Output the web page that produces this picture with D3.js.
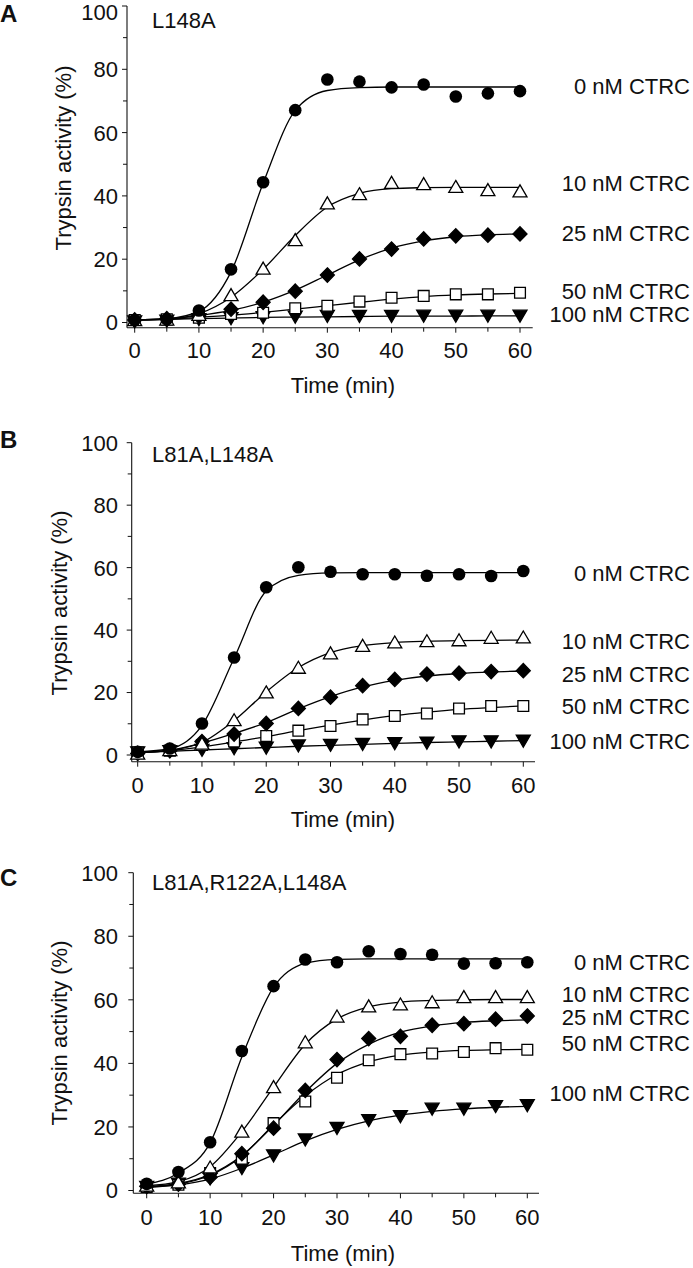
<!DOCTYPE html>
<html>
<head>
<meta charset="utf-8">
<script src="https://cdn.jsdelivr.net/npm/d3@7"></script>
<style>
  html, body { margin: 0; padding: 0; background: #fff; }
  svg { display: block; }
  text { font-family: "Liberation Sans", Arial, Helvetica, sans-serif; fill: #111; }
</style>
</head>
<body>
<svg id="chart" width="693" height="1268"></svg>
<script>
// ---------------- DATA ----------------
const times = [0, 5, 10, 15, 20, 25, 30, 35, 40, 45, 50, 55, 60];
const seriesNames = ["0 nM CTRC", "10 nM CTRC", "25 nM CTRC", "50 nM CTRC", "100 nM CTRC"];
const panelLetters = ["A", "B", "C"];
const panelTitles = ["L148A", "L81A,L148A", "L81A,R122A,L148A"];
const yTicks = [0, 20, 40, 60, 80, 100];
const yMinorTicks = [10, 30, 50, 70, 90];
const xTicks = [0, 10, 20, 30, 40, 50, 60];
const xMinorTicks = [5, 15, 25, 35, 45, 55];
const xTitle = "Time (min)";
const yTitle = "Trypsin activity (%)";

// Panel A (L148A) measured points
const a0   = [0.8, 1.0, 3.8, 16.8, 44.3, 67.1, 76.8, 76.1, 74.3, 75.2, 71.4, 72.4, 73.1];
const a10  = [0.8, 1.0, 2.5, 8.7, 17.1, 26.1, 37.7, 40.6, 44.2, 43.8, 42.9, 41.9, 41.5];
const a25  = [0.8, 1.2, 2.0, 4.2, 6.4, 9.9, 15.0, 20.1, 23.2, 26.4, 27.4, 27.6, 28.0];
const a50  = [0.8, 1.0, 1.5, 2.7, 3.1, 4.5, 5.3, 6.6, 7.8, 8.4, 8.9, 8.9, 9.4];
const a100 = [0.3, 0.5, 1.0, 1.3, 1.6, 1.8, 2.0, 2.0, 2.0, 2.1, 2.1, 2.1, 2.1];
// Panel A fitted curves
const fa0   = [0.8, 1.2, 3.5, 16, 44, 67, 73.3, 74.2, 74.4, 74.4, 74.4, 74.4, 74.4];
const fa10  = [0.8, 1.1, 2.8, 8, 16.8, 27.5, 36.5, 40.8, 42.3, 42.6, 42.7, 42.7, 42.7];
const fa25  = [0.8, 1.1, 2.2, 3.8, 6.4, 10.2, 15, 19.8, 23.5, 25.8, 27.1, 27.7, 28.0];
const fa50  = [0.8, 1.0, 1.6, 2.3, 3.2, 4.2, 5.3, 6.4, 7.4, 8.2, 8.7, 9.0, 9.2];
const fa100 = [0.8, 1.0, 1.2, 1.4, 1.6, 1.7, 1.8, 1.9, 2.0, 2.0, 2.0, 2.1, 2.1];

// Panel B (L81A,L148A) measured points
const b0   = [1.0, 2.1, 10.1, 31.2, 53.7, 60.1, 58.7, 57.9, 57.9, 57.4, 57.9, 57.3, 58.9];
const b10  = [0.5, 1.6, 3.7, 11.2, 20.1, 28.0, 32.6, 35.0, 36.1, 36.5, 36.8, 37.6, 37.7];
const b25  = [0.5, 1.4, 4.3, 6.7, 10.1, 14.9, 18.5, 22.2, 24.2, 25.9, 26.2, 26.7, 27.0];
const b50  = [0.8, 1.4, 3.2, 4.3, 6.1, 7.8, 9.3, 11.4, 12.5, 13.3, 14.9, 15.7, 15.7];
const b100 = [0.8, 1.2, 1.6, 2.1, 2.3, 3.0, 3.2, 3.5, 3.7, 3.9, 4.3, 4.3, 4.5];
// Panel B fitted curves
const fb0   = [1.0, 2.0, 9.5, 31, 52.5, 57.5, 58.3, 58.4, 58.4, 58.4, 58.4, 58.4, 58.4];
const fb10  = [0.8, 1.5, 4.0, 11, 20.2, 28, 32.8, 35, 36, 36.4, 36.6, 36.7, 36.8];
const fb25  = [0.8, 1.5, 3.8, 6.9, 10.4, 14.8, 18.7, 21.8, 23.9, 25.3, 26.1, 26.6, 26.9];
const fb50  = [0.8, 1.4, 2.6, 4.2, 5.9, 7.8, 9.6, 11.2, 12.6, 13.7, 14.6, 15.2, 15.7];
const fb100 = [0.8, 1.2, 1.6, 2.0, 2.4, 2.8, 3.1, 3.4, 3.7, 4.0, 4.2, 4.4, 4.6];

// Panel C (L81A,R122A,L148A) measured points
const c0   = [2.1, 5.8, 15.2, 43.9, 64.3, 72.7, 71.8, 75.3, 74.4, 74.2, 71.4, 71.5, 71.8];
const c10  = [1.6, 2.6, 7.3, 18.6, 32.6, 46.7, 54.8, 58.0, 58.6, 59.3, 60.9, 60.9, 60.9];
const c25  = [1.3, 2.0, 4.2, 11.6, 19.6, 31.5, 41.2, 47.8, 48.5, 52.0, 52.5, 53.9, 54.9];
const c50  = [1.1, 1.8, 5.5, 10.0, 21.2, 28.0, 35.5, 41.0, 42.9, 43.1, 43.6, 44.8, 44.3];
const c100 = [1.1, 2.1, 3.7, 7.0, 11.0, 16.0, 19.6, 22.1, 23.3, 25.7, 25.7, 26.5, 26.8];
// Panel C fitted curves
const fc0   = [2.0, 5.5, 15, 42, 64, 71.5, 72.7, 72.9, 72.9, 72.9, 72.9, 72.9, 72.9];
const fc10  = [1.5, 2.8, 7.5, 18.5, 32.5, 46, 54, 57.8, 59.3, 59.8, 60.0, 60.1, 60.1];
const fc25  = [1.2, 2.2, 5.0, 11, 20.5, 31, 40, 46, 49.8, 51.8, 52.9, 53.4, 53.7];
const fc50  = [1.1, 2.0, 4.8, 10.8, 20.7, 29.8, 36.5, 40.5, 42.6, 43.6, 44.1, 44.3, 44.4];
const fc100 = [1.0, 1.8, 3.6, 7.0, 11.2, 15.6, 19.2, 21.9, 23.7, 24.9, 25.7, 26.2, 26.5];

// Series label heights (in % units) for the right-hand labels
const labelsA = [74.6, 43.9, 28.3, 9.8, 2.7];
const labelsB = [58.3, 36.5, 25.9, 15.7, 4.5];
const labelsC = [71.9, 61.8, 54.5, 46.3, 30.5];

const pointsByPanel = [[a0, a10, a25, a50, a100], [b0, b10, b25, b50, b100], [c0, c10, c25, c50, c100]];
const fitsByPanel   = [[fa0, fa10, fa25, fa50, fa100], [fb0, fb10, fb25, fb50, fb100], [fc0, fc10, fc25, fc50, fc100]];
const labelsByPanel = [labelsA, labelsB, labelsC];

// ---------------- LAYOUT ----------------
const layouts = [
  { axisX: 127,   x0: 134.7, x60: 520.0, xEnd: 532.7, y100: 6.0,   y0: 322.5,  axisY: 327.7,
    letterY: 21.7, titleY: 28,   yTitleX: 70.5, yTitleCy: 158,  tickLabelY: 358,  timeY: 393 },
  { axisX: 131.7, x0: 137.7, x60: 523.3, xEnd: 535.0, y100: 442.7, y0: 755.0,  axisY: 761.7,
    letterY: 448.3, titleY: 461.7, yTitleX: 67, yTitleCy: 603, tickLabelY: 793, timeY: 827 },
  { axisX: 133.3, x0: 146.7, x60: 527.3, xEnd: 539.0, y100: 872.7, y0: 1190.5, axisY: 1193.3,
    letterY: 885.5, titleY: 890, yTitleX: 67, yTitleCy: 1033, tickLabelY: 1225, timeY: 1261 }
];
const FONT = 22;

// marker shapes
const markerTypes = ["circle", "triUp", "diamond", "square", "triDown"];
function markerPath(type) {
  switch (type) {
    case "triUp":   return "M0,-6.3L7,5.7L-7,5.7Z";
    case "triDown": return "M0,6.3L7,-5.7L-7,-5.7Z";
    case "diamond": return "M0,-7.2L7,0L0,7.2L-7,0Z";
    case "square":  return "M-5.4,-5.4H5.4V5.4H-5.4Z";
  }
  return null;
}
const markerFill = { circle: "#000", triUp: "#fff", diamond: "#000", square: "#fff", triDown: "#000" };

const svg = d3.select("#chart");

layouts.forEach((L, p) => {
  const g = svg.append("g");
  const x = d3.scaleLinear().domain([0, 60]).range([L.x0, L.x60]);
  const y = d3.scaleLinear().domain([0, 100]).range([L.y0, L.y100]);

  // y axis
  g.append("line").attr("x1", L.axisX).attr("x2", L.axisX)
    .attr("y1", y(100)).attr("y2", L.axisY).attr("stroke", "#111").attr("stroke-width", 1.1);
  g.selectAll(".ytick").data(yTicks).enter().append("line")
    .attr("x1", L.axisX - 5).attr("x2", L.axisX).attr("y1", d => y(d)).attr("y2", d => y(d))
    .attr("stroke", "#111").attr("stroke-width", 1);
  g.selectAll(".yminor").data(yMinorTicks).enter().append("line")
    .attr("x1", L.axisX - 4).attr("x2", L.axisX).attr("y1", d => y(d)).attr("y2", d => y(d))
    .attr("stroke", "#111").attr("stroke-width", 1);
  g.selectAll(".ylab").data(yTicks).enter().append("text")
    .attr("x", 118).attr("y", d => Math.max(y(d), 12.5)).attr("dy", "0.36em")
    .attr("text-anchor", "end").attr("font-size", FONT).text(d => d);

  // x axis
  g.append("line").attr("x1", L.axisX).attr("x2", L.xEnd)
    .attr("y1", L.axisY).attr("y2", L.axisY).attr("stroke", "#111").attr("stroke-width", 1.1);
  g.selectAll(".xtick").data(xTicks).enter().append("line")
    .attr("x1", d => x(d)).attr("x2", d => x(d)).attr("y1", L.axisY).attr("y2", L.axisY + 5)
    .attr("stroke", "#111").attr("stroke-width", 1);
  g.selectAll(".xminor").data(xMinorTicks).enter().append("line")
    .attr("x1", d => x(d)).attr("x2", d => x(d)).attr("y1", L.axisY).attr("y2", L.axisY + 4)
    .attr("stroke", "#111").attr("stroke-width", 1);
  g.selectAll(".xlab").data(xTicks).enter().append("text")
    .attr("x", d => x(d)).attr("y", L.tickLabelY)
    .attr("text-anchor", "middle").attr("font-size", FONT).text(d => d);

  // titles
  g.append("text").attr("x", 343).attr("y", L.timeY).attr("text-anchor", "middle")
    .attr("font-size", FONT).text(xTitle);
  g.append("text").attr("transform", `translate(${L.yTitleX},${L.yTitleCy}) rotate(-90)`)
    .attr("text-anchor", "middle").attr("font-size", FONT).text(yTitle);
  g.append("text").attr("x", 0).attr("y", L.letterY).attr("font-size", 24)
    .attr("font-weight", "bold").text(panelLetters[p]);
  g.append("text").attr("x", 152).attr("y", L.titleY).attr("font-size", FONT).text(panelTitles[p]);

  // fitted curves
  const line = d3.line().x((d, i) => x(times[i])).y(d => y(d)).curve(d3.curveMonotoneX);
  fitsByPanel[p].forEach(f => {
    g.append("path").attr("d", line(f)).attr("fill", "none")
      .attr("stroke", "#000").attr("stroke-width", 1.3);
  });

  // markers (draw highest concentration first so 0 nM sits on top)
  for (let s = 4; s >= 0; s--) {
    const type = markerTypes[s];
    const vals = pointsByPanel[p][s];
    const sel = g.selectAll(".m" + s).data(vals).enter();
    if (type === "circle") {
      sel.append("circle").attr("cx", (d, i) => x(times[i])).attr("cy", d => y(d))
        .attr("r", 6.3).attr("fill", "#000");
    } else {
      sel.append("path").attr("d", markerPath(type))
        .attr("transform", (d, i) => `translate(${x(times[i])},${y(d)})`)
        .attr("fill", markerFill[type]).attr("stroke", "#000").attr("stroke-width", 1.3)
        .attr("stroke-linejoin", "miter");
    }
  }

  // series labels
  g.selectAll(".slab").data(labelsByPanel[p]).enter().append("text")
    .attr("x", 690).attr("y", d => y(d)).attr("dy", "0.36em")
    .attr("text-anchor", "end").attr("font-size", FONT)
    .text((d, i) => seriesNames[i]);
});
</script>
</body>
</html>
